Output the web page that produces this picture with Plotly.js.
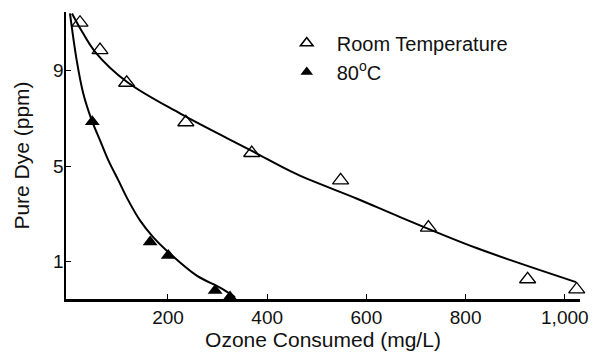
<!DOCTYPE html>
<html>
<head>
<meta charset="utf-8">
<script src="https://cdn.plot.ly/plotly-3.0.1.min.js"></script>
<style>html,body{margin:0;padding:0;background:#fff;}#chart{width:601px;height:361px;}</style>
</head>
<body>
<div id="chart"></div>
<script>
// Measured points: room temperature (open triangles)
const roomX = [22.6, 63, 116.7, 236, 368.8, 548, 725, 925, 1024];
const roomY = [11.02, 9.87, 8.5, 6.84, 5.55, 4.4, 2.42, 0.25, -0.18];
// Measured points: 80 °C (filled triangles)
const hotX = [47.4, 164, 200.6, 295, 325];
const hotY = [6.86, 1.81, 1.25, -0.22, -0.5];
// Fitted curves
const roomCurveX = [6.5, 24, 53, 117, 225, 368, 459.5, 580, 668, 822, 1022.6];
const roomCurveY = [11.41, 10.75, 9.8, 8.54, 7.2, 5.65, 4.66, 3.64, 2.86, 1.56, 0.13];
const hotCurveX = [2.4, 15.9, 29.2, 46.2, 63, 79.6, 99.8, 120, 143.5, 170, 197, 258, 305, 335];
const hotCurveY = [11.41, 9.45, 8.05, 6.93, 6.08, 5.25, 4.41, 3.56, 2.72, 2.02, 1.46, 0.4, -0.1, -0.5];
// Axis ticks
const xTickVals = [200, 400, 600, 800, 1000];
const xTickText = ['200', '400', '600', '800', '1,000'];
const yTickVals = [1, 5, 9];
const yTickText = ['1', '5', '9'];

const font = 'Liberation Sans, Arial, sans-serif';

const traces = [
  {x: roomCurveX, y: roomCurveY, mode: 'lines', line: {color: '#000', width: 2, shape: 'spline', smoothing: 1}, showlegend: false, hoverinfo: 'skip'},
  {x: hotCurveX, y: hotCurveY, mode: 'lines', line: {color: '#000', width: 2, shape: 'spline', smoothing: 1}, showlegend: false, hoverinfo: 'skip', cliponaxis: false},
  {x: roomX, y: roomY, mode: 'markers', name: 'Room Temperature', showlegend: false,
   marker: {symbol: 'triangle-up-open', size: 14, color: '#000', line: {width: 1.3, color: '#000'}}, cliponaxis: false},
  {x: hotX, y: hotY, mode: 'markers', name: '80°C', showlegend: false,
   marker: {symbol: 'triangle-up', size: 13, color: '#000'}, cliponaxis: false},
  {x: [null], y: [null], mode: 'markers', name: 'Room Temperature',
   marker: {symbol: 'triangle-up-open', size: 11, color: '#000', line: {width: 1.6, color: '#000'}}},
  {x: [null], y: [null], mode: 'markers', name: '80<sup>o</sup>C',
   marker: {symbol: 'triangle-up', size: 11, color: '#000'}}
];

const layout = {
  width: 601, height: 361,
  margin: {l: 66, r: 21, t: 12, b: 62},
  paper_bgcolor: '#fff', plot_bgcolor: '#fff',
  font: {family: font, size: 19, color: '#111'},
  showlegend: true,
  legend: {x: 0.41, y: 0.96, xanchor: 'left', yanchor: 'top', bgcolor: 'rgba(0,0,0,0)',
           itemwidth: 50, font: {family: font, size: 20, color: '#111'}, tracegroupgap: 0, itemclick: false},
  xaxis: {range: [-5.6, 1030.6], showgrid: false, zeroline: false, showline: true,
          linecolor: '#000', linewidth: 2.5, ticks: 'inside', ticklen: 5, tickwidth: 1, tickcolor: '#000',
          tickvals: xTickVals, ticktext: xTickText, tickfont: {size: 19},
          title: {text: 'Ozone Consumed (mg/L)', font: {size: 21}, standoff: 2}},
  yaxis: {range: [-0.58, 11.47], showgrid: false, zeroline: false, showline: true,
          linecolor: '#000', linewidth: 2.5, ticks: 'inside', ticklen: 5, tickwidth: 1, tickcolor: '#000',
          tickvals: yTickVals, ticktext: yTickText, tickfont: {size: 19}, ticklabelstandoff: -4,
          title: {text: 'Pure Dye (ppm)', font: {size: 21}, standoff: 18}}
};

Plotly.newPlot('chart', traces, layout, {displayModeBar: false, staticPlot: true});
</script>
</body>
</html>
